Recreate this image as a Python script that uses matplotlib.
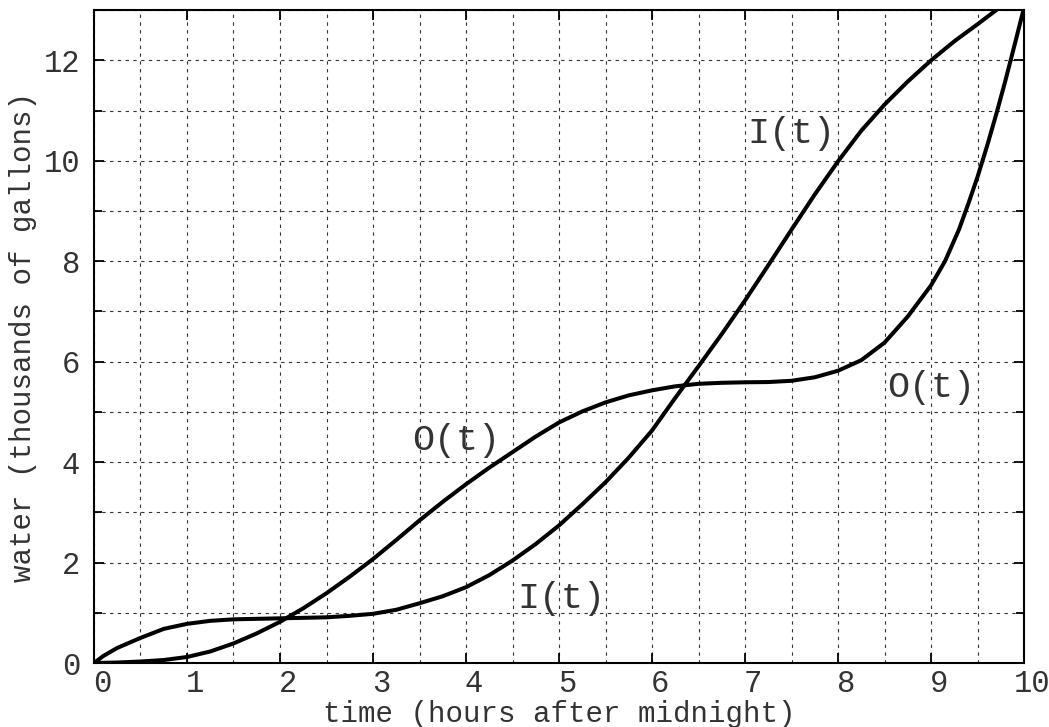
import matplotlib
matplotlib.use("Agg")
import matplotlib.pyplot as plt
import matplotlib.transforms as mtrans
from matplotlib.ticker import MultipleLocator

# values
t_in = [0, 0.1, 0.25, 0.5, 0.75, 1.0, 1.25, 1.5, 1.75, 2.0, 2.25, 2.5, 2.75,
        3.0, 3.25, 3.5, 3.75, 4.0, 4.25, 4.5, 4.75, 5.0, 5.25, 5.5, 5.75,
        6.0, 6.25, 6.5, 6.75, 7.0, 7.25, 7.5, 7.75, 8.0, 8.25, 8.5, 8.75,
        9.0, 9.25, 9.5, 9.7]
water_in = [0, 0.14, 0.30, 0.50, 0.68, 0.78, 0.84, 0.87, 0.88, 0.89, 0.90, 0.91, 0.94,
            0.98, 1.06, 1.19, 1.33, 1.51, 1.75, 2.04, 2.37, 2.74, 3.16, 3.60, 4.09,
            4.63, 5.28, 5.91, 6.55, 7.22, 7.92, 8.63, 9.33, 9.99, 10.6, 11.12, 11.58,
            12.0, 12.38, 12.72, 13.0]

t_out = [0, 0.25, 0.5, 0.75, 1.0, 1.25, 1.5, 1.75, 2.0, 2.25, 2.5, 2.75,
         3.0, 3.25, 3.5, 3.75, 4.0, 4.25, 4.5, 4.75, 5.0, 5.25, 5.5, 5.75,
         6.0, 6.25, 6.5, 6.75, 7.0, 7.25, 7.5, 7.75, 8.0, 8.25, 8.5, 8.75,
         9.0, 9.15, 9.3, 9.4, 9.5, 9.6, 9.7, 9.8, 9.9, 10.0]
water_out = [0, 0.01, 0.03, 0.06, 0.12, 0.23, 0.39, 0.59, 0.82, 1.09, 1.39, 1.72,
             2.07, 2.45, 2.84, 3.21, 3.56, 3.89, 4.20, 4.51, 4.79, 5.01, 5.19, 5.33,
             5.43, 5.51, 5.56, 5.58, 5.59, 5.595, 5.62, 5.69, 5.82, 6.03, 6.38, 6.9,
             7.52, 8.0, 8.63, 9.14, 9.68, 10.28, 10.92, 11.6, 12.32, 13.05]

labels = ["I(t)", "I(t)", "O(t)", "O(t)"]
label_t = [7.03, 4.55, 3.42, 8.53]
label_w = [10.55, 1.29, 4.43, 5.49]

plt.rcParams['font.family'] = ['Liberation Mono', 'DejaVu Sans']
plt.rcParams['font.size'] = 21

fig = plt.figure(figsize=(10.49, 7.27), dpi=100)
ax = fig.add_axes([0.0896, 0.088, 0.8866, 0.898])

ax.plot(t_in, water_in, color='black', lw=2.9, solid_joinstyle='round')
ax.plot(t_out, water_out, color='black', lw=2.9, solid_joinstyle='round')

for s, x, y in zip(labels, label_t, label_w):
    ax.text(x, y, s, ha='left', va='center', color='#333333', fontsize=26.5)

ax.set_xlim(0, 10)
ax.set_ylim(0, 13)
ax.xaxis.set_major_locator(MultipleLocator(1))
ax.xaxis.set_minor_locator(MultipleLocator(0.5))
ax.yaxis.set_major_locator(MultipleLocator(2))
ax.yaxis.set_minor_locator(MultipleLocator(1))
ax.grid(which='both', color='#333333', linestyle=(0, (3, 4)), lw=0.8)

ax.tick_params(which='both', direction='in', top=True, right=True, width=1.3,
               colors='black', labelcolor='#333333', labelsize=22)
ax.tick_params(which='major', length=7)
ax.tick_params(axis='x', which='major', pad=4)
ax.tick_params(axis='y', which='major', pad=10)
ax.tick_params(axis='x', which='minor', length=0)
ax.tick_params(axis='y', which='minor', length=6)
for sp in ax.spines.values():
    sp.set_linewidth(1.5)

# gnuplot-ish offset of the x tick labels
shift = mtrans.ScaledTranslation(0.08, 0, fig.dpi_scale_trans)
for lab in ax.get_xticklabels():
    lab.set_transform(lab.get_transform() + shift)

ax.set_xlabel("time (hours after midnight)", color='#333333', labelpad=1)
ax.set_ylabel("water (thousands of gallons)", color='#333333', labelpad=5)

fig.savefig("out.png", dpi=100)
